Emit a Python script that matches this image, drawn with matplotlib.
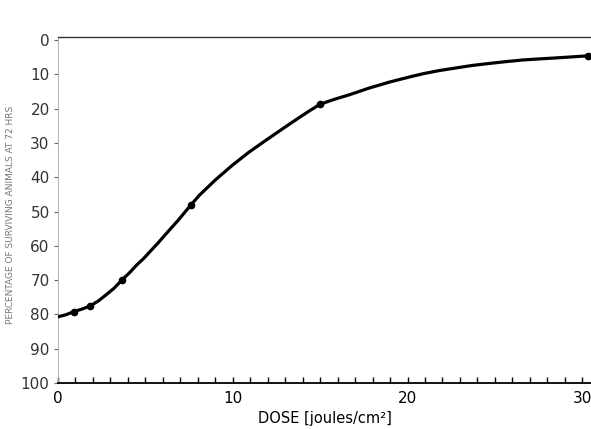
import numpy as np
from matplotlib import pyplot as plt
from matplotlib.ticker import MultipleLocator

# values
dose = [0.9, 1.85, 3.65, 7.6, 15.0, 30.3]
response = [79.2, 77.5, 70.0, 48.1, 18.7, 4.6]

curve_dose = [0, 0.45, 0.9, 1.4, 1.85, 2.3, 2.7, 3.2, 3.65, 4.1, 4.5, 4.9, 5.26, 5.7,
              6.2, 6.9, 7.6, 8.1, 9.0, 10.0, 10.9, 11.9, 12.9, 13.8, 14.4, 15.0, 15.8,
              16.7, 17.8, 19.0, 20.0, 20.9, 21.8, 22.8, 23.7, 24.7, 25.6, 26.6, 27.5,
              28.5, 29.4, 30.3]
curve_resp = [80.7, 80.1, 79.2, 78.4, 77.5, 76.1, 74.5, 72.4, 70.0, 67.8, 65.6, 63.7,
              61.7, 59.3, 56.4, 52.4, 48.1, 45.2, 40.8, 36.4, 32.8, 29.2, 25.7, 22.6,
              20.6, 18.7, 17.3, 15.9, 14.0, 12.2, 10.9, 9.8, 8.9, 8.1, 7.4, 6.8, 6.3,
              5.8, 5.5, 5.2, 4.9, 4.6]

x_ticks = [0, 10, 20, 30]
y_ticks = [0, 10, 20, 30, 40, 50, 60, 70, 80, 90, 100]

fig = plt.figure(figsize=(5.91, 4.29), dpi=100)
ax = fig.add_axes([58 / 591, 1 - 383 / 429, 533 / 591, (383 - 37) / 429])

ax.plot(curve_dose, curve_resp, color='black', lw=2.3, solid_capstyle='round',
        solid_joinstyle='round', zorder=3)
ax.plot(dose, response, 'o', color='black', ms=4.5, zorder=4)

ax.set_xlim(0, 30.5)
ax.set_ylim(100, -0.9)

ax.xaxis.set_major_locator(MultipleLocator(10))
ax.xaxis.set_minor_locator(MultipleLocator(1))
ax.set_xticks(x_ticks)
ax.set_yticks(y_ticks)
ax.tick_params(axis='x', which='both', direction='in', length=4, width=1, pad=6,
               labelsize=11, color='black')
ax.tick_params(axis='y', direction='out', length=3, width=0.8, pad=3,
               labelsize=11, color='#666666', labelcolor='#333333')

ax.spines['right'].set_visible(False)
ax.spines['bottom'].set_linewidth(1.3)
ax.spines['top'].set_linewidth(1.0)
ax.spines['top'].set_color('#333333')
ax.spines['left'].set_linewidth(0.6)
ax.spines['left'].set_color('#aaaaaa')

ax.set_xlabel('DOSE [joules/cm²]', fontsize=10.5, labelpad=3)
fig.text(0.017, 0.5, 'PERCENTAGE OF SURVIVING ANIMALS AT 72 HRS', rotation=90,
         ha='center', va='center', fontsize=6.5, color='#777777')

fig.savefig('out.png', dpi=100)
